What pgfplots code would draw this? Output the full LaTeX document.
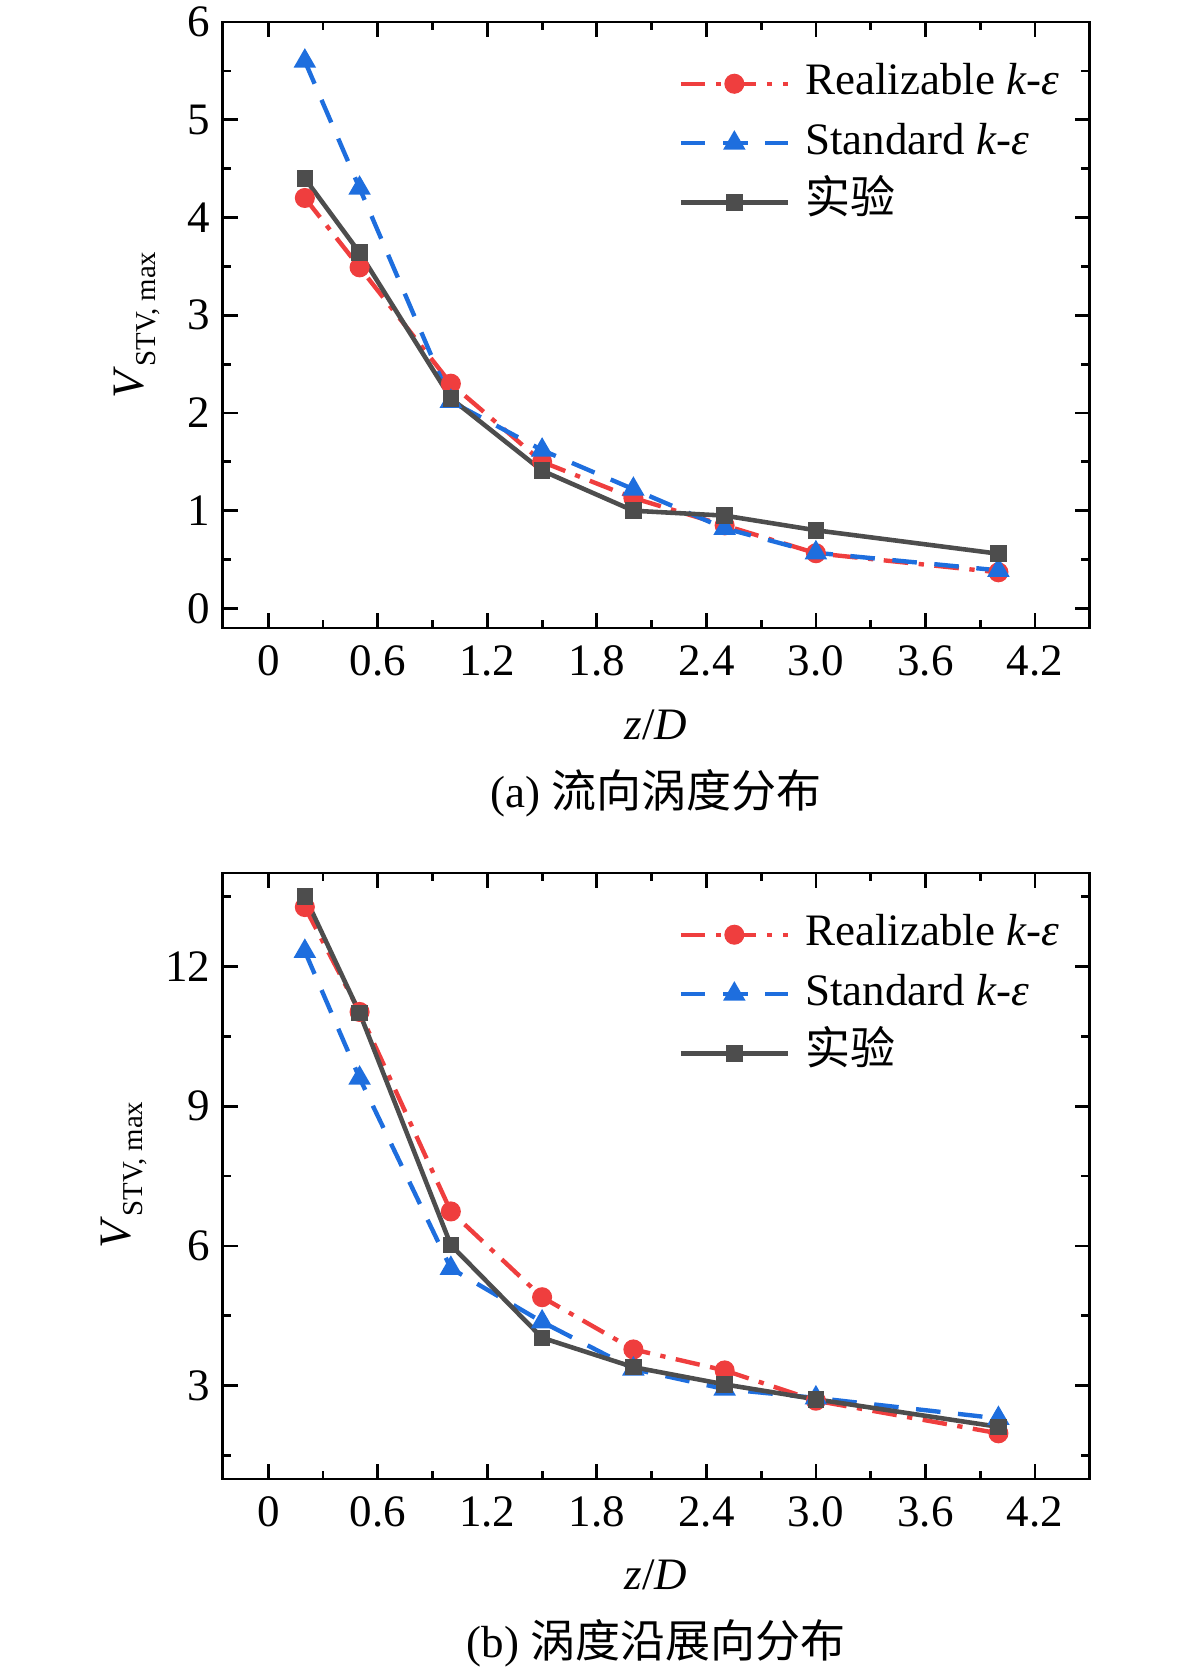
\documentclass[border=0pt]{standalone}
\usepackage{pgfplots}
\pgfplotsset{compat=1.18}
\usepackage{fontspec}
\setmainfont{Liberation Serif}
\newfontfamily\cjk{Noto Sans CJK SC}
\definecolor{cR}{RGB}{239,62,62}
\definecolor{cB}{RGB}{30,110,222}
\definecolor{cG}{RGB}{77,77,77}
\newcommand{\fs}{\fontsize{12.8}{15.4}\selectfont}
\newcommand{\ylab}{\textit{V}\raisebox{-0.28em}{\fontsize{8.2}{9}\selectfont STV, max}}
\pgfplotsset{
  myaxis/.style={
    scale only axis, width=86.7mm, height=60.6mm,
    xmin=-0.25, xmax=4.5,
    xtick={0,0.6,1.2,1.8,2.4,3.0,3.6,4.2},
    xticklabels={0,0.6,1.2,1.8,2.4,3.0,3.6,4.2},
    minor xtick={0.3,0.9,1.5,2.1,2.7,3.3,3.9},
    tick align=inside, xtick pos=both, ytick pos=both,
    major tick length=4.3pt, minor tick length=2.4pt,
    every tick/.style={black, line width=0.8pt},
    axis line style={line width=0.8pt},
    tick label style={font=\fs},
    /pgf/number format/assume math mode=true,
    xticklabel style={yshift=-0.5mm},
    legend cell align=left,
    legend style={draw=none, fill=none, font=\fs, anchor=north west,
      at={(0.525,0.935)}, row sep=4.6pt, inner sep=0pt,
      nodes={inner sep=0pt, text height=9.3pt, text depth=3pt},
      /tikz/every odd column/.append style={column sep=1.5mm}},
    legend image code/.code={\draw[mark repeat=2,mark phase=2,##1] plot coordinates {(0mm,0mm) (5.35mm,0mm) (10.7mm,0mm)};},
  },
  sR/.style={color=cR, line width=1.25pt, dash pattern=on 7pt off 3pt on 1.5pt off 3pt, mark=*, mark size=2.6pt, mark options={solid, fill=cR, draw=cR, line width=0.5pt}},
  sB/.style={color=cB, line width=1.25pt, dash pattern=on 7pt off 5pt, mark=triangle*, mark size=3.2pt, mark options={solid, fill=cB, draw=cB, line width=0.5pt}},
  sG/.style={color=cG, line width=1.3pt, solid, mark=square*, mark size=2.1pt, mark options={solid, fill=cG, draw=cG, line width=0.5pt}},
}
\begin{document}
\begin{tikzpicture}
\useasboundingbox (0,0) rectangle (118.1mm,-167.3mm);
% ---------- (a) ----------
\begin{axis}[myaxis, at={(22.27mm,-62.8mm)}, anchor=south west,
  ymin=-0.2, ymax=6, ytick={0,1,2,3,4,5,6},
  minor ytick={0.5,1.5,2.5,3.5,4.5,5.5}]
\addplot[sR] coordinates {(0.2,4.2)(0.5,3.49)(1.0,2.3)(1.5,1.5)(2.0,1.13)(2.5,0.85)(3.0,0.565)(4.0,0.37)};
\addlegendentry{Realizable \textit{k}-\textit{ε}}
\addplot[sB] coordinates {(0.2,5.6)(0.5,4.3)(1.0,2.12)(1.5,1.62)(2.0,1.22)(2.5,0.82)(3.0,0.57)(4.0,0.39)};
\addlegendentry{Standard \textit{k}-\textit{ε}}
\addplot[sG] coordinates {(0.2,4.4)(0.5,3.64)(1.0,2.15)(1.5,1.41)(2.0,1.0)(2.5,0.95)(3.0,0.8)(4.0,0.56)};
\addlegendentry{{\cjk 实验}}
\end{axis}
% ---------- (b) ----------
\begin{axis}[myaxis, at={(22.27mm,-147.9mm)}, anchor=south west,
  ymin=1, ymax=14, ytick={3,6,9,12},
  minor ytick={1.5,4.5,7.5,10.5,13.5}]
\addplot[sR] coordinates {(0.2,13.27)(0.5,11.02)(1.0,6.74)(1.5,4.9)(2.0,3.78)(2.5,3.33)(3.0,2.68)(4.0,1.98)};
\addlegendentry{Realizable \textit{k}-\textit{ε}}
\addplot[sB] coordinates {(0.2,12.32)(0.5,9.6)(1.0,5.52)(1.5,4.37)(2.0,3.36)(2.5,2.93)(3.0,2.74)(4.0,2.3)};
\addlegendentry{Standard \textit{k}-\textit{ε}}
\addplot[sG] coordinates {(0.2,13.5)(0.5,11.0)(1.0,6.02)(1.5,4.03)(2.0,3.4)(2.5,3.03)(3.0,2.71)(4.0,2.12)};
\addlegendentry{{\cjk 实验}}
\end{axis}
% labels
\node[font=\fs, rotate=90, anchor=center] at (13.7mm,-32.5mm) {\ylab};
\node[font=\fs, rotate=90, anchor=center] at (12.4mm,-117.5mm) {\ylab};
\node[font=\fs, anchor=center] at (65.6mm,-72.5mm) {\textit{z}/\textit{D}};
\node[font=\fs, anchor=center] at (65.6mm,-79.3mm) {(a) {\cjk 流向涡度分布}};
\node[font=\fs, anchor=center] at (65.6mm,-157.5mm) {\textit{z}/\textit{D}};
\node[font=\fs, anchor=center] at (65.6mm,-164.3mm) {(b) {\cjk 涡度沿展向分布}};
\end{tikzpicture}
\end{document}
